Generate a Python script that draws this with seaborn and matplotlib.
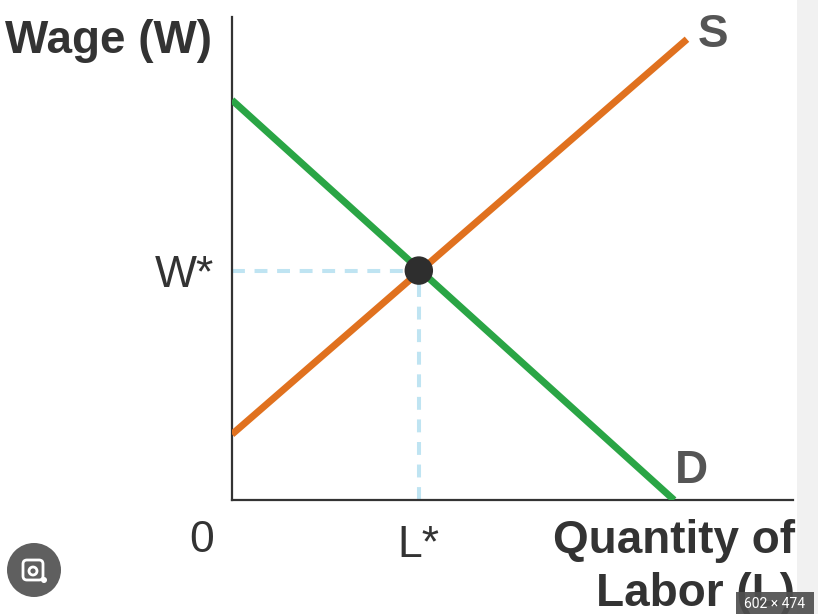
import matplotlib
matplotlib.use('Agg')
import matplotlib.pyplot as plt
from matplotlib.patches import Circle, Rectangle, FancyBboxPatch
import seaborn as sns
import numpy as np

# curves of the labour market (x = quantity of labour, y = wage)
demand_x = [0.0, 7.88]
demand_y = [8.28, 0.0]
supply_x = [0.0, 8.11]
supply_y = [1.36, 9.54]

# equilibrium
L_star = 3.33
W_star = 4.75

x_ticks = [L_star]
x_tick_labels = ['L*']
y_ticks = [W_star]
y_tick_labels = ['W*']

sns.set_style('white')
plt.rcParams['font.family'] = ['Liberation Sans', 'DejaVu Sans']

W, H = 818, 614
fig = plt.figure(figsize=(W / 100, H / 100), dpi=100)
ax = fig.add_axes([232 / W, (H - 500) / H, 561 / W, 483 / H])

green = '#2aa545'
orange = '#e0711f'
dash_blue = '#bfe4f2'

# dashed guides to the equilibrium
ax.plot([0, L_star], [W_star, W_star], color=dash_blue, lw=2.9,
        dashes=(3.2, 2.4), zorder=2)
ax.plot([L_star, L_star], [0, W_star], color=dash_blue, lw=2.9,
        dashes=(3.2, 2.4), zorder=2)

sns.lineplot(x=demand_x, y=demand_y, color=green, lw=5, ax=ax,
             solid_capstyle='butt', zorder=3)
sns.lineplot(x=supply_x, y=supply_y, color=orange, lw=5, ax=ax,
             solid_capstyle='butt', zorder=4)
sns.scatterplot(x=[L_star], y=[W_star], color='#2e2e2e', s=420,
                edgecolor='none', ax=ax, zorder=5)

ax.set_xlim(0, 10)
ax.set_ylim(0, 10)
for side in ['top', 'right']:
    ax.spines[side].set_visible(False)
for side in ['left', 'bottom']:
    ax.spines[side].set_color('#333333')
    ax.spines[side].set_linewidth(1.6)

ax.set_xticks(x_ticks, x_tick_labels)
ax.set_yticks(y_ticks, y_tick_labels)
ax.tick_params(axis='both', length=0, labelsize=32, labelcolor='#333333')
ax.tick_params(axis='x', pad=18)
ax.tick_params(axis='y', pad=13)
ax.set_xlabel('')
ax.set_ylabel('')

# overlay in pixel coordinates for labels and the viewer chrome
ov = fig.add_axes([0, 0, 1, 1], zorder=10)
ov.set_xlim(0, W)
ov.set_ylim(H, 0)
ov.axis('off')
ov.patch.set_alpha(0)

ov.text(5, 53, 'Wage (W)', fontsize=33, fontweight='bold', color='#333333',
        ha='left', va='baseline')
ov.text(698, 47, 'S', fontsize=33, fontweight='bold', color='#555555',
        ha='left', va='baseline')
ov.text(675, 483, 'D', fontsize=33, fontweight='bold', color='#555555',
        ha='left', va='baseline')
ov.text(202, 552, '0', fontsize=32, color='#333333', ha='center', va='baseline')
ov.text(795, 553, 'Quantity of', fontsize=33, fontweight='bold', color='#333333',
        ha='right', va='baseline')
ov.text(795, 606, 'Labor (L)', fontsize=33, fontweight='bold', color='#333333',
        ha='right', va='baseline')

# right grey strip of the viewer
ov.add_patch(Rectangle((797, 0), 21, H, facecolor='#f1f1f1', edgecolor='none'))

# size badge
ov.add_patch(Rectangle((736, 592), 78, 22, facecolor='#4f4f4f', alpha=0.92,
                       edgecolor='none', zorder=11))
ov.text(775, 604, '602 × 474', fontsize=10, color='white', ha='center',
        va='center', zorder=12, family=['Roboto', 'DejaVu Sans'])

# lens button
ov.add_patch(Circle((34, 570), 27, facecolor='#5f5f5f', edgecolor='none'))
ov.add_patch(FancyBboxPatch((23, 560), 20, 20, boxstyle='round,pad=0,rounding_size=4',
                            facecolor='none', edgecolor='white', lw=2))
ov.add_patch(Circle((33, 571), 4, facecolor='none', edgecolor='white', lw=2))
ov.add_patch(Circle((44, 580), 3, facecolor='white', edgecolor='none'))

fig.savefig('out.png', dpi=100)
